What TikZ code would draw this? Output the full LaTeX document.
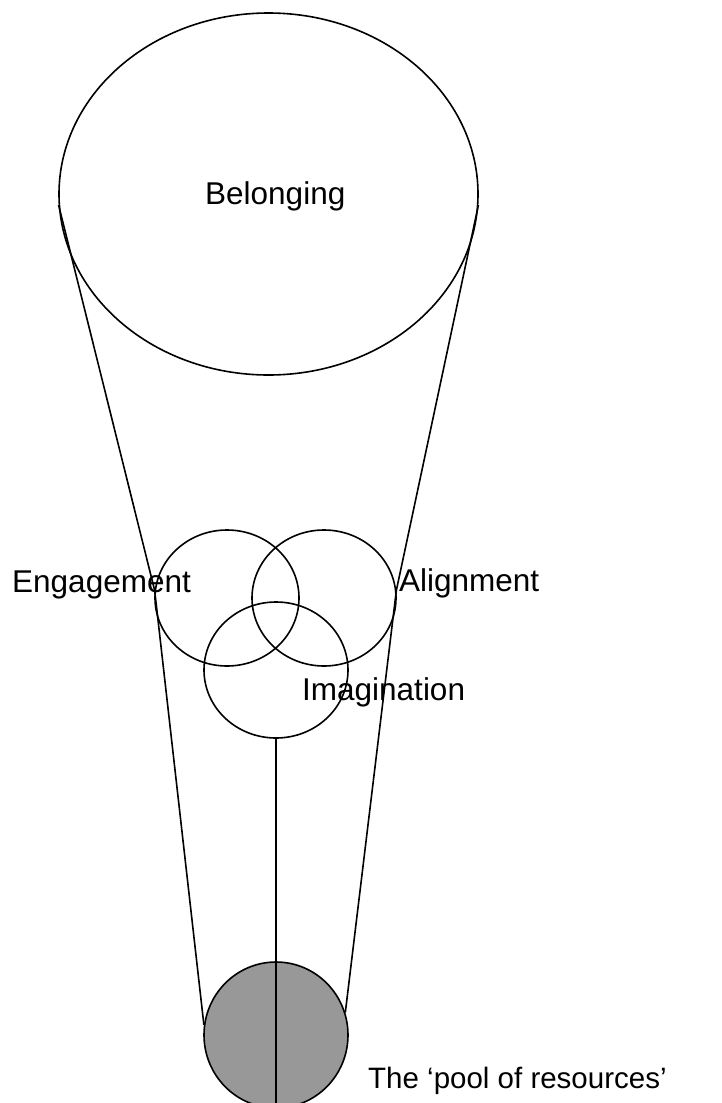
\documentclass[tikz,border=0pt]{standalone}
\usepackage{fontspec}
\setmainfont{Liberation Sans}
\usetikzlibrary{shapes.geometric}
\definecolor{poolgray}{RGB}{152,152,152}
\tikzset{
  ring/.style={ellipse, draw=black, line width=1.6pt, inner sep=0pt, minimum width=144pt, minimum height=136pt},
  lbl/.style={anchor=base west, inner sep=0pt, font=\fontsize{31.5}{37}\selectfont},
  link/.style={line width=1.6pt, line join=round}
}
\begin{document}
\begin{tikzpicture}[x=1pt,y=1pt]
\useasboundingbox (0,0) rectangle (721,-1103);
% pool of resources
\node[ring, fill=poolgray, minimum height=146pt] (pool) at (276,-1035) {};
% big ellipse
\node[ellipse, draw=black, line width=1.6pt, inner sep=0pt, minimum width=419pt, minimum height=362pt] (bel) at (268.5,-194) {};
% three circles
\node[ring] (eng) at (227,-598) {};
\node[ring] (ali) at (324,-598) {};
\node[ring] (ima) at (276,-670) {};
% labels
\node[lbl] (tbel) at (205,-204) {Belonging};
\node[lbl] (teng) at (12,-592) {Engagement};
\node[lbl] (tali) at (399,-591) {Alignment};
\node[lbl] (tima) at (302,-700) {Imagination};
\node[lbl, font=\fontsize{29.5}{35}\selectfont] (tpool) at (368,-1088) {The ‘pool of resources’};
% connectors
\draw[link] (bel.183) -- (eng.174) -- (pool.172);
\draw[link] (bel.357) -- (ali.6) -- (pool.18);
\coordinate (bottom) at (276,-1103);
\draw[link] (ima.south) -- (bottom);
\end{tikzpicture}
\end{document}
